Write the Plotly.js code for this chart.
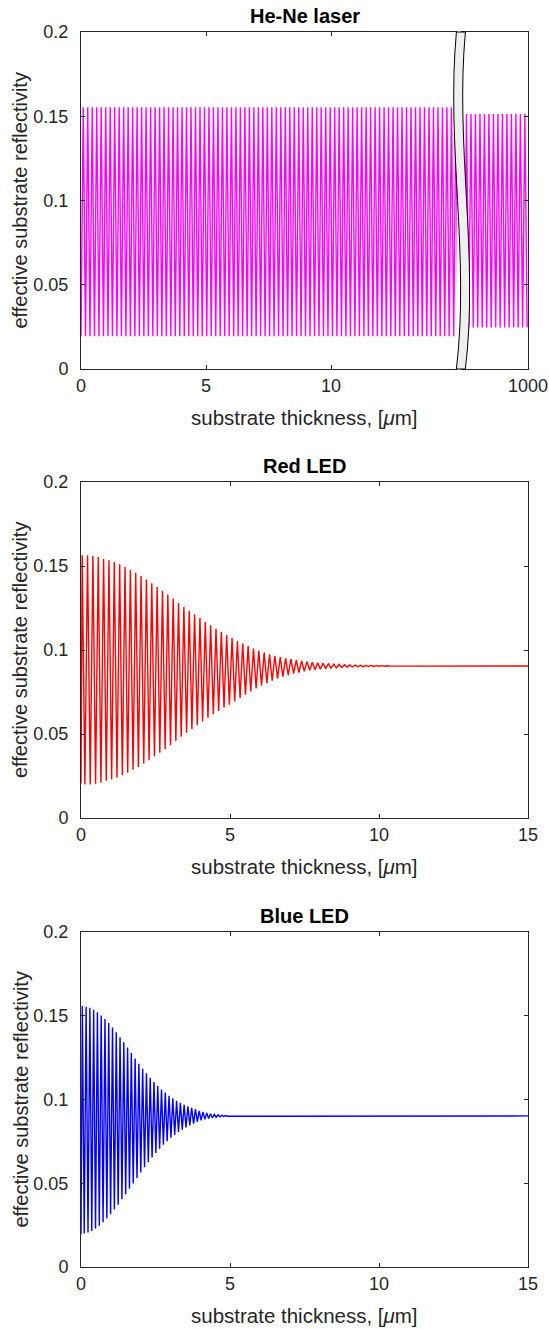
<!DOCTYPE html>
<html><head><meta charset="utf-8">
<script src="https://cdn.plot.ly/plotly-3.0.1.min.js"></script>
<style>html,body{margin:0;padding:0;background:#fff}#chart{width:549px;height:1329px}</style>
</head><body><div id="chart"></div>
<script>
// ---------------- data ----------------
const panelTitles = ['He-Ne laser', 'Red LED', 'Blue LED'];
const xTitle = 'substrate thickness, [<i>μ</i>m]';
const yTitle = 'effective substrate reflectivity';
const yTickVals = [0, 0.05, 0.1, 0.15, 0.2];
const yTickText = ['0', '0.05', '0.1', '0.15', '0.2'];
const heneLeftTicks = [0, 5, 10];
const heneRightTicks = [1000];
const ledTicks = [0, 5, 10, 15];
const heneLeftRange = [0, 15.04];
const heneRightRange = [997.32, 1000];
const ledRange = [0, 15];

// He-Ne laser: fringe period (um), first peak position, extrema per fringe
const henePeriod = 0.1796;
const heneLeftStart = [0, 0.0195];
const heneLeftFirstPeak = 0.09;
const heneLeftPeaks = [0.1553,0.1553,0.1553,0.1553,0.1553,0.1553,0.1553,0.1553,0.1553,0.1553,0.1553,0.1553,0.1553,0.1553,0.1553,0.1553,0.1553,0.1553,0.1553,0.1553,0.1553,0.1553,0.1553,0.1553,0.1553,0.1553,0.1553,0.1553,0.1553,0.1553,0.1553,0.1553,0.1553,0.1553,0.1553,0.1553,0.1553,0.1553,0.1553,0.1553,0.1553,0.1553,0.1553,0.1553,0.1553,0.1553,0.1553,0.1553,0.1553,0.1553,0.1553,0.1553,0.1553,0.1553,0.1553,0.1553,0.1553,0.1553,0.1553,0.1553,0.1553,0.1553,0.1553,0.1553,0.1553,0.1553,0.1553,0.1553,0.1553,0.1553,0.1553,0.1553,0.1553,0.1553,0.1553,0.1553,0.1553,0.1553,0.1553,0.1553,0.1553,0.1553,0.1553,0.1553];
const heneLeftTroughs = [0.0195,0.0195,0.0195,0.0195,0.0195,0.0195,0.0195,0.0195,0.0195,0.0195,0.0195,0.0195,0.0195,0.0195,0.0195,0.0195,0.0195,0.0195,0.0195,0.0195,0.0195,0.0195,0.0195,0.0195,0.0195,0.0195,0.0195,0.0195,0.0195,0.0195,0.0195,0.0195,0.0195,0.0195,0.0195,0.0195,0.0195,0.0195,0.0195,0.0195,0.0195,0.0195,0.0195,0.0195,0.0195,0.0195,0.0195,0.0195,0.0195,0.0195,0.0195,0.0195,0.0195,0.0195,0.0195,0.0195,0.0195,0.0195,0.0195,0.0195,0.0195,0.0195,0.0195,0.0195,0.0195,0.0195,0.0195,0.0195,0.0195,0.0195,0.0195,0.0195,0.0195,0.0195,0.0195,0.0195,0.0195,0.0195,0.0195,0.0195,0.0195,0.0195,0.0195,0.0195];
const heneRightStart = [997.32, 0.0247];
const heneRightFirstPeak = 997.36;
const heneRightPeaks = [0.1513,0.1513,0.1513,0.1513,0.1513,0.1513,0.1513,0.1513,0.1513,0.1513,0.1513,0.1513,0.1513,0.1513,0.1513];
const heneRightTroughs = [0.0247,0.0247,0.0247,0.0247,0.0247,0.0247,0.0247,0.0247,0.0247,0.0247,0.0247,0.0247,0.0247,0.0247,0.0247];

// Red LED
const redPeriod = 0.1796;
const redStart = [0, 0.0206];
const redFirstPeak = 0.04;
const redPeaks = [0.1564,0.1564,0.1560,0.1554,0.1542,0.1534,0.1524,0.1510,0.1494,0.1476,0.1460,0.1440,0.1420,0.1397,0.1375,0.1353,0.1331,0.1306,0.1280,0.1256,0.1234,0.1212,0.1190,0.1167,0.1147,0.1127,0.1107,0.1089,0.1071,0.1054,0.1038,0.1023,0.1009,0.0996,0.0985,0.0975,0.0966,0.0958,0.0951,0.0945,0.0940,0.0935,0.0931,0.0927,0.0924,0.0921,0.0918,0.0916,0.0914,0.0912,0.0911,0.0910,0.0909,0.0908,0.0908,0.0907,0.0907,0.0906,0.0906];
const redTroughs = [0.0200,0.0200,0.0204,0.0210,0.0222,0.0230,0.0240,0.0254,0.0270,0.0288,0.0304,0.0324,0.0344,0.0367,0.0389,0.0411,0.0433,0.0458,0.0484,0.0508,0.0530,0.0552,0.0574,0.0597,0.0617,0.0637,0.0657,0.0675,0.0693,0.0714,0.0734,0.0753,0.0771,0.0788,0.0803,0.0817,0.0830,0.0842,0.0851,0.0859,0.0866,0.0873,0.0879,0.0883,0.0886,0.0889,0.0892,0.0894,0.0896,0.0898,0.0899,0.0900,0.0901,0.0902,0.0902,0.0903,0.0903,0.0904,0.0904];
const redEnd = [15, 0.0905];

// Blue LED
const bluePeriod = 0.1265;
const blueStart = [0, 0.0195];
const blueFirstPeak = 0.045;
const bluePeaks = [0.1558,0.1554,0.1547,0.1536,0.1521,0.1502,0.1481,0.1456,0.1430,0.1401,0.1372,0.1341,0.1310,0.1277,0.1245,0.1213,0.1184,0.1156,0.1130,0.1104,0.1082,0.1060,0.1041,0.1022,0.1007,0.0992,0.0980,0.0969,0.0960,0.0951,0.0942,0.0932,0.0926,0.0920,0.0915,0.0911,0.0908,0.0906,0.0904];
const blueTroughs = [0.0200,0.0206,0.0215,0.0230,0.0247,0.0267,0.0290,0.0315,0.0343,0.0372,0.0404,0.0435,0.0467,0.0499,0.0531,0.0564,0.0595,0.0625,0.0654,0.0681,0.0706,0.0730,0.0751,0.0772,0.0789,0.0806,0.0820,0.0833,0.0845,0.0855,0.0866,0.0875,0.0881,0.0886,0.0891,0.0894,0.0897,0.0899,0.0900];
const blueEnd = [15, 0.0902];

// ---------------- drawing ----------------
function fringeTrace(start, firstPeak, period, peaks, troughs, end) {
  const x = [start[0]], y = [start[1]];
  for (let i = 0; i < peaks.length; i++) {
    x.push(firstPeak + i * period); y.push(peaks[i]);
    if (i < troughs.length) { x.push(firstPeak + (i + 0.5) * period); y.push(troughs[i]); }
  }
  if (end) { x.push(end[0]); y.push(end[1]); }
  return {x, y};
}

const W = 549, H = 1329;
const px = v => v / W;
const py = v => 1 - v / H;
const FONT = 'Liberation Sans, Arial, Helvetica, sans-serif';
const AX = '#262626';

const L = 81, R = 528;
const panels = [{top: 32, bot: 369}, {top: 482, bot: 818}, {top: 932, bot: 1267}];

function lineTrace(d, color, xa, ya) {
  return {x: d.x, y: d.y, type: 'scatter', mode: 'lines', xaxis: xa, yaxis: ya,
    line: {color: color, width: 1.4}, hoverinfo: 'skip', showlegend: false};
}

const traces = [
  lineTrace(fringeTrace(heneLeftStart, heneLeftFirstPeak, henePeriod, heneLeftPeaks, heneLeftTroughs, null), '#ff00ff', 'x', 'y'),
  lineTrace(fringeTrace(heneRightStart, heneRightFirstPeak, henePeriod, heneRightPeaks, heneRightTroughs, null), '#ff00ff', 'x4', 'y4'),
  lineTrace(fringeTrace(redStart, redFirstPeak, redPeriod, redPeaks, redTroughs, redEnd), '#ff0000', 'x2', 'y2'),
  lineTrace(fringeTrace(blueStart, blueFirstPeak, bluePeriod, bluePeaks, blueTroughs, blueEnd), '#0000ff', 'x3', 'y3')
];

function xAx(domain, range, ticks, anchor, mirror) {
  return {domain, range, tickvals: ticks, ticktext: ticks.map(String), ticks: 'inside', ticklen: 4,
    tickcolor: AX, showline: true, linecolor: AX, linewidth: 1, mirror: mirror, showgrid: false,
    zeroline: false, anchor, tickfont: {family: FONT, size: 18, color: AX}, fixedrange: true};
}
function yAx(p, anchor, mirror, side, labels) {
  return {domain: [py(p.bot), py(p.top)], range: [0, 0.2], tickvals: yTickVals, ticktext: yTickText,
    ticks: 'inside', ticklen: 4, tickcolor: AX, showline: true, linecolor: AX, linewidth: 1, mirror: mirror,
    showgrid: false, zeroline: false, anchor, side: side || 'left', showticklabels: labels !== false,
    ticklabelstandoff: 8,
    tickfont: {family: FONT, size: 18, color: AX}, fixedrange: true};
}

const annotations = [];
panels.forEach((p, i) => {
  annotations.push({text: '<b>' + panelTitles[i] + '</b>', xref: 'paper', yref: 'paper',
    x: px((L + R) / 2), y: py(p.top - 16), xanchor: 'center', yanchor: 'middle', showarrow: false,
    font: {family: FONT, size: 20, color: '#000'}});
  annotations.push({text: xTitle, xref: 'paper', yref: 'paper', x: px((L + R) / 2), y: py(p.bot + 48),
    xanchor: 'center', yanchor: 'middle', showarrow: false, font: {family: FONT, size: 20.5, color: AX}});
  annotations.push({text: yTitle, xref: 'paper', yref: 'paper', x: px(20), y: py((p.top + p.bot) / 2),
    xanchor: 'center', yanchor: 'middle', textangle: -90, showarrow: false, font: {family: FONT, size: 20, color: AX}});
});

// axis break band
const T = panels[0].top, B = panels[0].bot;
const bx = 456.4, bw = 9;
const c1y = T + (B - T) / 3, c2y = T + 2 * (B - T) / 3;
const bandPath = `M ${px(bx)} ${py(T)} C ${px(bx - 10.4)} ${py(c1y)} ${px(bx + 13.5)} ${py(c2y)} ${px(bx)} ${py(B)} ` +
  `L ${px(bx + bw)} ${py(B)} C ${px(bx + bw + 13.5)} ${py(c2y)} ${px(bx + bw - 10.4)} ${py(c1y)} ${px(bx + bw)} ${py(T)} Z`;

const layout = {
  width: W, height: H, margin: {l: 0, r: 0, t: 0, b: 0}, paper_bgcolor: '#fff', plot_bgcolor: '#fff',
  showlegend: false,
  xaxis: xAx([px(L), px(457)], heneLeftRange, heneLeftTicks, 'y', 'ticks'),
  yaxis: yAx(panels[0], 'x', false),
  xaxis4: xAx([px(461), px(R)], heneRightRange, heneRightTicks, 'y4', 'ticks'),
  yaxis4: yAx(panels[0], 'x4', false, 'right', false),
  xaxis2: xAx([px(L), px(R)], ledRange, ledTicks, 'y2', 'ticks'),
  yaxis2: yAx(panels[1], 'x2', 'ticks'),
  xaxis3: xAx([px(L), px(R)], ledRange, ledTicks, 'y3', 'ticks'),
  yaxis3: yAx(panels[2], 'x3', 'ticks'),
  annotations: annotations,
  shapes: [{type: 'path', xref: 'paper', yref: 'paper', path: bandPath, fillcolor: '#efefef',
    line: {color: '#000', width: 1}, layer: 'above'}]
};

Plotly.newPlot('chart', traces, layout, {staticPlot: true, displayModeBar: false});
</script>
</body></html>
